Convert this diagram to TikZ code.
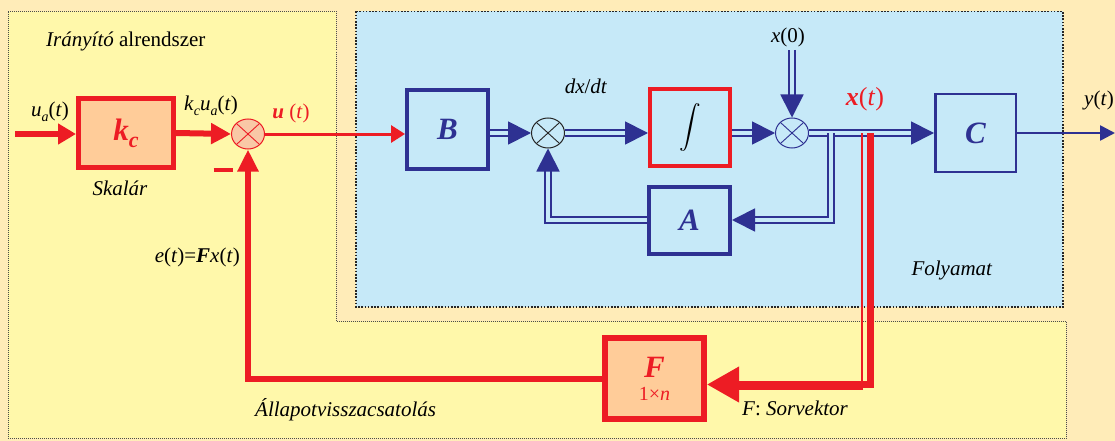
\documentclass[tikz,border=0pt]{standalone}
\usepackage{graphicx}
\usepackage{fontspec}
\setmainfont{Liberation Serif}
\usetikzlibrary{arrows.meta,shapes.geometric}
\definecolor{bgor}{HTML}{FFECB8}
\definecolor{yel}{HTML}{FFF8AA}
\definecolor{bluebg}{HTML}{C6E9F8}
\definecolor{myred}{HTML}{ED1C24}
\definecolor{myblue}{HTML}{2E3192}
\definecolor{salmon}{HTML}{FFCC99}
\definecolor{sumfill}{HTML}{F9C8A6}
\newcommand\mysub[1]{\raisebox{-0.25em}{\fontsize{14}{14}\selectfont #1}}
\begin{document}
\begin{tikzpicture}[x=1pt,y=-1pt,
  lbl/.style={inner sep=0pt, font=\fontsize{21}{24}\selectfont},
  bigl/.style={font=\fontsize{31}{34}\selectfont\bfseries\itshape},
  xcross/.style={path picture={\draw[#1, line width=0.9pt]
      (path picture bounding box.north east)--(path picture bounding box.south west)
      (path picture bounding box.north west)--(path picture bounding box.south east);}},
  sumnode/.style={ellipse, minimum width=33pt, minimum height=30pt, inner sep=0pt, line width=1pt},
  redbox/.style={draw=myred, fill=salmon, inner sep=0pt},
  bluebox/.style={draw=myblue, inner sep=0pt},
  dbl/.style={draw=myblue, line width=1.8pt, double=bluebg, double distance=4pt},
  btip/.style={-{Triangle[length=23pt,width=23pt]}},
  redw/.style={draw=myred, line width=6pt},
]
\useasboundingbox (0,0) rectangle (1115,441);
% backgrounds
\fill[bgor] (0,0) rectangle (1115,441);
\filldraw[fill=yel, draw=black!70, line width=0.7pt, dash pattern=on 1pt off 1pt]
  (8,11.5) -- (336,11.5) -- (336,321) -- (1066,321) -- (1066,438.5) -- (8,438.5) -- cycle;
\filldraw[fill=bluebg, draw=black!85, line width=1.6pt, dash pattern=on 1.6pt off 1.6pt]
  (356,11.5) rectangle (1063,307);

% blocks
\node[redbox, line width=5pt, minimum width=95pt, minimum height=69pt, bigl, text=myred] (kc) at (126,133)
  {k\raisebox{-0.22em}{\fontsize{22}{22}\selectfont c}};
\node[sumnode, draw=myred, fill=sumfill, xcross=myred] (s1) at (248,134) {};
\node[bluebox, line width=4pt, minimum width=81pt, minimum height=79pt, bigl, text=myblue] (B) at (447.5,129.5) {B};
\node[sumnode, draw=black!85, xcross=black!85] (s2) at (548,133) {};
\node[draw=myred, line width=4pt, minimum width=80pt, minimum height=77pt, inner sep=0pt] (I) at (690,127.5)
  {\resizebox*{!}{48pt}{$\displaystyle\int$}};
\node[sumnode, draw=myblue, xcross=myblue] (s3) at (792,133) {};
\node[bluebox, line width=2.5pt, minimum width=80.5pt, minimum height=77.5pt, bigl, text=myblue] (C) at (975.5,133) {C};
\node[bluebox, line width=4pt, minimum width=81pt, minimum height=67pt, bigl, text=myblue] (A) at (689.5,220) {A};
\node[redbox, line width=6pt, minimum width=99pt, minimum height=81pt, text=myred, align=center] (F) at (654.5,378.5)
  {{\fontsize{31}{31}\selectfont\bfseries\itshape F}\\[9pt]{\fontsize{20}{20}\selectfont 1×\textit{n}}};

% labels
\node[lbl, anchor=west] (tIr) at (46,41) {\textit{Irányító} alrendszer};
\node[lbl] (tua) at (50,112) {\textit{u}\mysub{\textit{a}}(\textit{t})};
\node[lbl] (tkcua) at (211,106) {\textit{k}\mysub{\textit{c}}\textit{u}\mysub{\textit{a}}(\textit{t})};
\node[lbl, text=myred] (tu) at (291,113) {\textbf{\textit{u}} (\textit{t})};
\node[lbl] (tsk) at (120,188) {\textit{Skalár}};
\node[inner sep=0pt] (minus) at (223,170) {\color{myred}\rule{19pt}{4pt}};
\node[lbl, anchor=east] (te) at (240,257) {\textit{e}(\textit{t})=\textbf{\textit{F}}\textit{x}(\textit{t})};
\node[lbl, anchor=west] (tall) at (255,410) {\textit{Állapotvisszacsatolás}};
\node[lbl] (tdx) at (586,86) {\textit{dx}/\textit{dt}};
\node[lbl] (tx0) at (788,37) {\textit{x}(0)};
\node[inner sep=0pt, font=\fontsize{26}{28}\selectfont, text=myred] (txt) at (865,99) {\textbf{\textit{x}}(\textit{t})};
\node[lbl, anchor=west] (ty) at (1084,100) {\textit{y}(\textit{t})};
\node[lbl] (tfoly) at (952,270) {\textit{Folyamat}};
\node[lbl] (tsor) at (795,408) {\textit{F}: \textit{Sorvektor}};

% coordinates
\coordinate (uin) at (15,134);
\coordinate (yout) at (1115,133);
\coordinate (x0s) at (792,50);
\coordinate (ab) at (831,133);
\coordinate (xt) at (862,133);
\coordinate (xtb) at (737,389);
\coordinate (xb) at (870,133);

% red connectors
\draw[redw, -{Triangle[length=18pt,width=20pt]}] (uin) -- (uin -| kc.west);
\draw[redw, -{Triangle[length=20pt,width=20pt]}] (kc.east) -- (s1.west);
\draw[draw=myred, line width=3pt, -{Triangle[length=14pt,width=17pt]}] (s1.east) -- (s1 -| B.west);
\draw[redw, -{Triangle[length=22pt,width=20pt]}] (F.west) -| (s1.south);

% blue connectors
\draw[dbl, btip] (B.east |- s2) -- (s2.west);
\draw[dbl, btip] (s2.east) -- (s2 -| I.west);
\draw[dbl, btip] (I.east |- s3) -- (s3.west);
\draw[dbl, btip] (x0s) -- (s3.north);
\draw[dbl, btip] (s3.east) -- (C.west);
\draw[dbl, btip] (ab) |- (A.east);
\draw[dbl, btip] (A.west) -| (s2.south);
\draw[draw=myblue, line width=2.5pt, -{Triangle[length=15pt,width=15pt]}] (C.east) -- (yout);

% red branch to F
\draw[draw=myred, line width=2pt] (xt) |- (xtb);
\draw[draw=myred, line width=7pt, -{Triangle[length=32pt,width=34pt]}] (xb) |- ([yshift=-6pt]F.east);
\end{tikzpicture}
\end{document}
